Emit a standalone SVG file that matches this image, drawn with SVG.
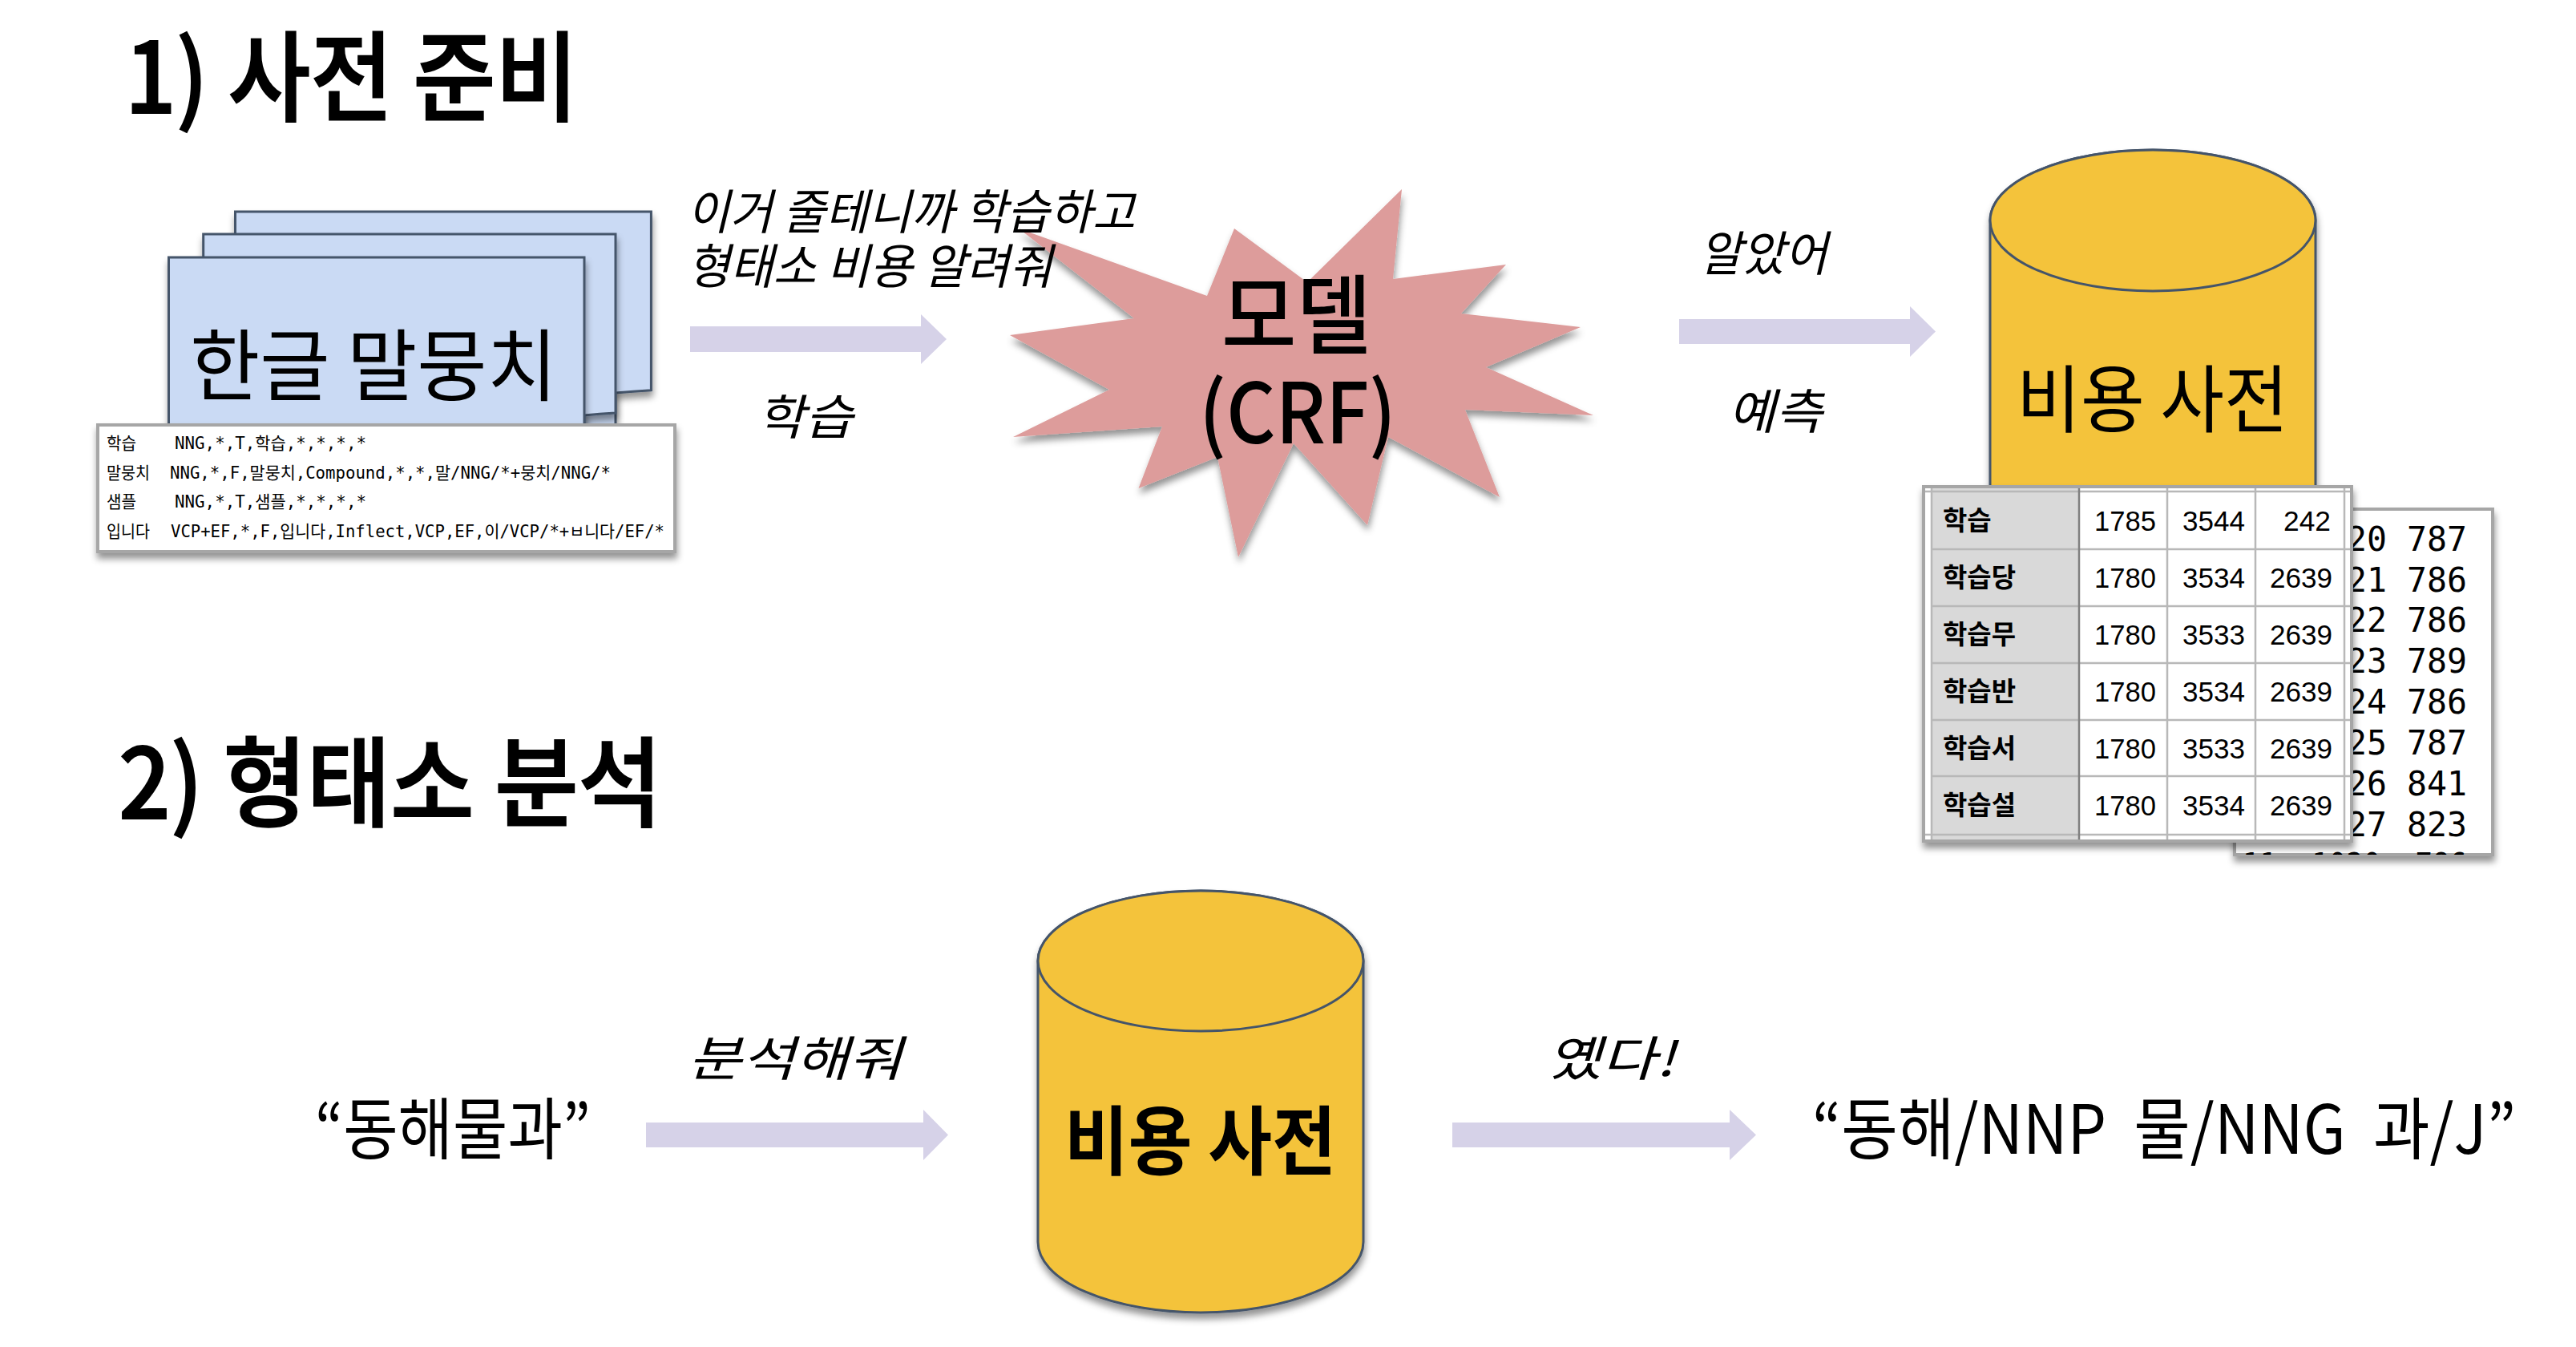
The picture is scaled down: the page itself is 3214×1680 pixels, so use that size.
<svg xmlns="http://www.w3.org/2000/svg" width="3214" height="1680" viewBox="0 0 3214 1680">
<style>
text{font-family:"Noto Sans CJK KR","Noto Sans",sans-serif;fill:#000;white-space:pre}
.title{font-size:122px;font-weight:500;stroke:#000;stroke-width:2}
.say{font-size:60px;font-style:italic;font-weight:400}
.q{font-size:84px;font-weight:400}
.mono{font-family:"DejaVu Sans Mono","Noto Sans CJK KR",monospace;font-size:21px}
.mono2{font-family:"DejaVu Sans Mono",monospace;font-size:43px}
.lab{font-size:33px;font-weight:700}
.num{font-family:"Liberation Sans",Arial,sans-serif;font-size:35px}
.page{fill:#CADAF4;stroke:#44546A;stroke-width:3;filter:url(#sh)}
.cyl{fill:#F4C33B;stroke:#44546A;stroke-width:3}
.sheet{fill:#fff;stroke:#A6A6A6;stroke-width:4;filter:url(#sh)}
.arrow{fill:#D6D2E8}
.g{stroke:#B8B8B8;stroke-width:2.5;fill:none}
</style>
<defs>
<filter id="sh" x="-10%" y="-10%" width="120%" height="125%"><feDropShadow dx="1" dy="7" stdDeviation="4" flood-color="#000" flood-opacity="0.42"/></filter>
<clipPath id="backclip"><rect x="2788" y="637" width="322" height="429"/></clipPath>
</defs>
<rect width="3214" height="1680" fill="#fff"/>

<text class="title" x="156" y="141" textLength="565" lengthAdjust="spacingAndGlyphs">1) 사전 준비</text>
<text class="title" x="148" y="1021" textLength="678" lengthAdjust="spacingAndGlyphs">2) 형태소 분석</text>

<g id="corpus">
<path class="page" d="M293.5,264H812.4V486.7Q790,488 768,490V530H293.5Z"/>
<path class="page" d="M253.7,292H768V515Q748,516 729,518V540H253.7Z"/>
<path class="page" d="M210.5,321H729V560H210.5Z"/>
<text x="237" y="492" font-size="98" textLength="458" lengthAdjust="spacingAndGlyphs">한글 말뭉치</text>
<rect class="sheet" x="122" y="530" width="720" height="158"/>
<text class="mono" x="133" y="560" textLength="37" lengthAdjust="spacingAndGlyphs">학습</text>
<text class="mono" x="218" y="560" textLength="239" lengthAdjust="spacingAndGlyphs">NNG,*,T,학습,*,*,*,*</text>
<text class="mono" x="133" y="597" textLength="54" lengthAdjust="spacingAndGlyphs">말뭉치</text>
<text class="mono" x="212" y="597" textLength="550" lengthAdjust="spacingAndGlyphs">NNG,*,F,말뭉치,Compound,*,*,말/NNG/*+뭉치/NNG/*</text>
<text class="mono" x="133" y="633" textLength="37" lengthAdjust="spacingAndGlyphs">샘플</text>
<text class="mono" x="218" y="633" textLength="239" lengthAdjust="spacingAndGlyphs">NNG,*,T,샘플,*,*,*,*</text>
<text class="mono" x="133" y="670" textLength="54" lengthAdjust="spacingAndGlyphs">입니다</text>
<text class="mono" x="213" y="670" textLength="616" lengthAdjust="spacingAndGlyphs">VCP+EF,*,F,입니다,Inflect,VCP,EF,이/VCP/*+ㅂ니다/EF/*</text>
</g>

<g id="connectors">
<path class="arrow" d="M861,407H1149V392L1181,423L1149,454V439H861Z"/>
<path class="arrow" d="M2095,398H2383V382L2415,413.500L2383,445V429H2095Z"/>
<path class="arrow" d="M806,1400H1152V1384L1183,1415.500L1152,1447V1431H806Z"/>
<path class="arrow" d="M1812,1400H2158V1384L2191,1415.500L2158,1447V1431H1812Z"/>
</g>

<g id="model">
<path filter="url(#sh)" fill="#DD9C9B" d="M1749,236L1738,348L1879,330L1823,391L1972,408L1854,458L1988,518L1828,511L1871,620L1732,545L1706,655L1614,553L1545,695L1519,570L1420.500,609L1450,532L1264,545L1384,486L1260,418L1415,397L1271,285L1506,369L1540,285L1631,352Z"/>
<text x="1524" y="433" font-size="108" font-weight="500" textLength="187" lengthAdjust="spacingAndGlyphs">모델</text>
<text x="1496" y="553" font-size="104" font-weight="500" textLength="246" lengthAdjust="spacingAndGlyphs">(CRF)</text>
</g>

<text class="say" x="857" y="286" textLength="559" lengthAdjust="spacingAndGlyphs">이거 줄테니까 학습하고</text>
<text class="say" x="857" y="354" textLength="456" lengthAdjust="spacingAndGlyphs">형태소 비용 알려줘</text>
<text class="say" x="944" y="542" textLength="120" lengthAdjust="spacingAndGlyphs">학습</text>
<text class="say" x="2120" y="338" textLength="160" lengthAdjust="spacingAndGlyphs">알았어</text>
<text class="say" x="2156" y="535" textLength="118" lengthAdjust="spacingAndGlyphs">예측</text>
<text class="say" x="858" y="1342" textLength="268" lengthAdjust="spacingAndGlyphs">분석해줘</text>
<text class="say" x="1930" y="1342" textLength="160" lengthAdjust="spacingAndGlyphs">옜다!</text>

<g id="dict-top">
<path class="cyl" filter="url(#sh)" d="M2483,275A203,88 0 0 1 2889,275V700H2483Z"/>
<ellipse class="cyl" cx="2686" cy="275" rx="203" ry="88"/>
<text x="2516" y="532" font-size="92" textLength="339" lengthAdjust="spacingAndGlyphs">비용 사전</text>
</g>

<g id="cost-back">
<rect class="sheet" x="2788" y="635" width="322" height="431"/>
<g clip-path="url(#backclip)">
<text class="mono2" x="2928" y="687" textLength="150" lengthAdjust="spacingAndGlyphs">20 787</text>
<text class="mono2" x="2928" y="738" textLength="150" lengthAdjust="spacingAndGlyphs">21 786</text>
<text class="mono2" x="2928" y="788" textLength="150" lengthAdjust="spacingAndGlyphs">22 786</text>
<text class="mono2" x="2928" y="839" textLength="150" lengthAdjust="spacingAndGlyphs">23 789</text>
<text class="mono2" x="2928" y="890" textLength="150" lengthAdjust="spacingAndGlyphs">24 786</text>
<text class="mono2" x="2928" y="941" textLength="150" lengthAdjust="spacingAndGlyphs">25 787</text>
<text class="mono2" x="2928" y="992" textLength="150" lengthAdjust="spacingAndGlyphs">26 841</text>
<text class="mono2" x="2928" y="1043" textLength="150" lengthAdjust="spacingAndGlyphs">27 823</text>
<text class="mono2" x="2798" y="1094" textLength="280" lengthAdjust="spacingAndGlyphs">11  1020  786</text>
</g>
</g>

<g id="cost-table">
<rect class="sheet" x="2400" y="607" width="534" height="442"/>
<rect x="2410" y="609" width="184" height="438" fill="#D9D9D9"/>
<path class="g" d="M2410,609V1047M2704,609V1047M2814,609V1047M2925,609V1047M2402,613H2932M2410,685H2932M2410,756H2932M2410,827H2932M2410,898H2932M2410,968H2932M2402,1041H2932"/>
<path d="M2594,609V1047" stroke="#808080" stroke-width="2.500" fill="none"/>
<text class="lab" x="2424" y="661">학습</text>
<text class="lab" x="2424" y="732">학습당</text>
<text class="lab" x="2424" y="803">학습무</text>
<text class="lab" x="2424" y="874">학습반</text>
<text class="lab" x="2424" y="945">학습서</text>
<text class="lab" x="2424" y="1016">학습설</text>
<g class="nums">
<text class="num" x="2613" y="662" textLength="77" lengthAdjust="spacingAndGlyphs">1785</text><text class="num" x="2723" y="662" textLength="78" lengthAdjust="spacingAndGlyphs">3544</text><text class="num" x="2849" y="662" textLength="59" lengthAdjust="spacingAndGlyphs">242</text>
<text class="num" x="2613" y="733" textLength="77" lengthAdjust="spacingAndGlyphs">1780</text><text class="num" x="2723" y="733" textLength="78" lengthAdjust="spacingAndGlyphs">3534</text><text class="num" x="2832" y="733" textLength="78" lengthAdjust="spacingAndGlyphs">2639</text>
<text class="num" x="2613" y="804" textLength="77" lengthAdjust="spacingAndGlyphs">1780</text><text class="num" x="2723" y="804" textLength="78" lengthAdjust="spacingAndGlyphs">3533</text><text class="num" x="2832" y="804" textLength="78" lengthAdjust="spacingAndGlyphs">2639</text>
<text class="num" x="2613" y="875" textLength="77" lengthAdjust="spacingAndGlyphs">1780</text><text class="num" x="2723" y="875" textLength="78" lengthAdjust="spacingAndGlyphs">3534</text><text class="num" x="2832" y="875" textLength="78" lengthAdjust="spacingAndGlyphs">2639</text>
<text class="num" x="2613" y="946" textLength="77" lengthAdjust="spacingAndGlyphs">1780</text><text class="num" x="2723" y="946" textLength="78" lengthAdjust="spacingAndGlyphs">3533</text><text class="num" x="2832" y="946" textLength="78" lengthAdjust="spacingAndGlyphs">2639</text>
<text class="num" x="2613" y="1017" textLength="77" lengthAdjust="spacingAndGlyphs">1780</text><text class="num" x="2723" y="1017" textLength="78" lengthAdjust="spacingAndGlyphs">3534</text><text class="num" x="2832" y="1017" textLength="78" lengthAdjust="spacingAndGlyphs">2639</text>
</g>
</g>

<g id="input"><text class="q" x="393" y="1439" textLength="344" lengthAdjust="spacingAndGlyphs">“동해물과”</text></g>

<g id="dict-bottom">
<path class="cyl" filter="url(#sh)" d="M1295,1198.500A203,87.500 0 0 1 1701,1198.500V1549A203,88 0 0 1 1295,1549Z"/>
<ellipse class="cyl" cx="1498" cy="1198.500" rx="203" ry="87.500"/>
<text x="1328" y="1458" font-size="94" font-weight="700" textLength="339" lengthAdjust="spacingAndGlyphs">비용 사전</text>
</g>

<g id="output"><text class="q" x="2261" y="1439" textLength="878" lengthAdjust="spacingAndGlyphs">“동해/NNP  물/NNG  과/J”</text></g>
</svg>
